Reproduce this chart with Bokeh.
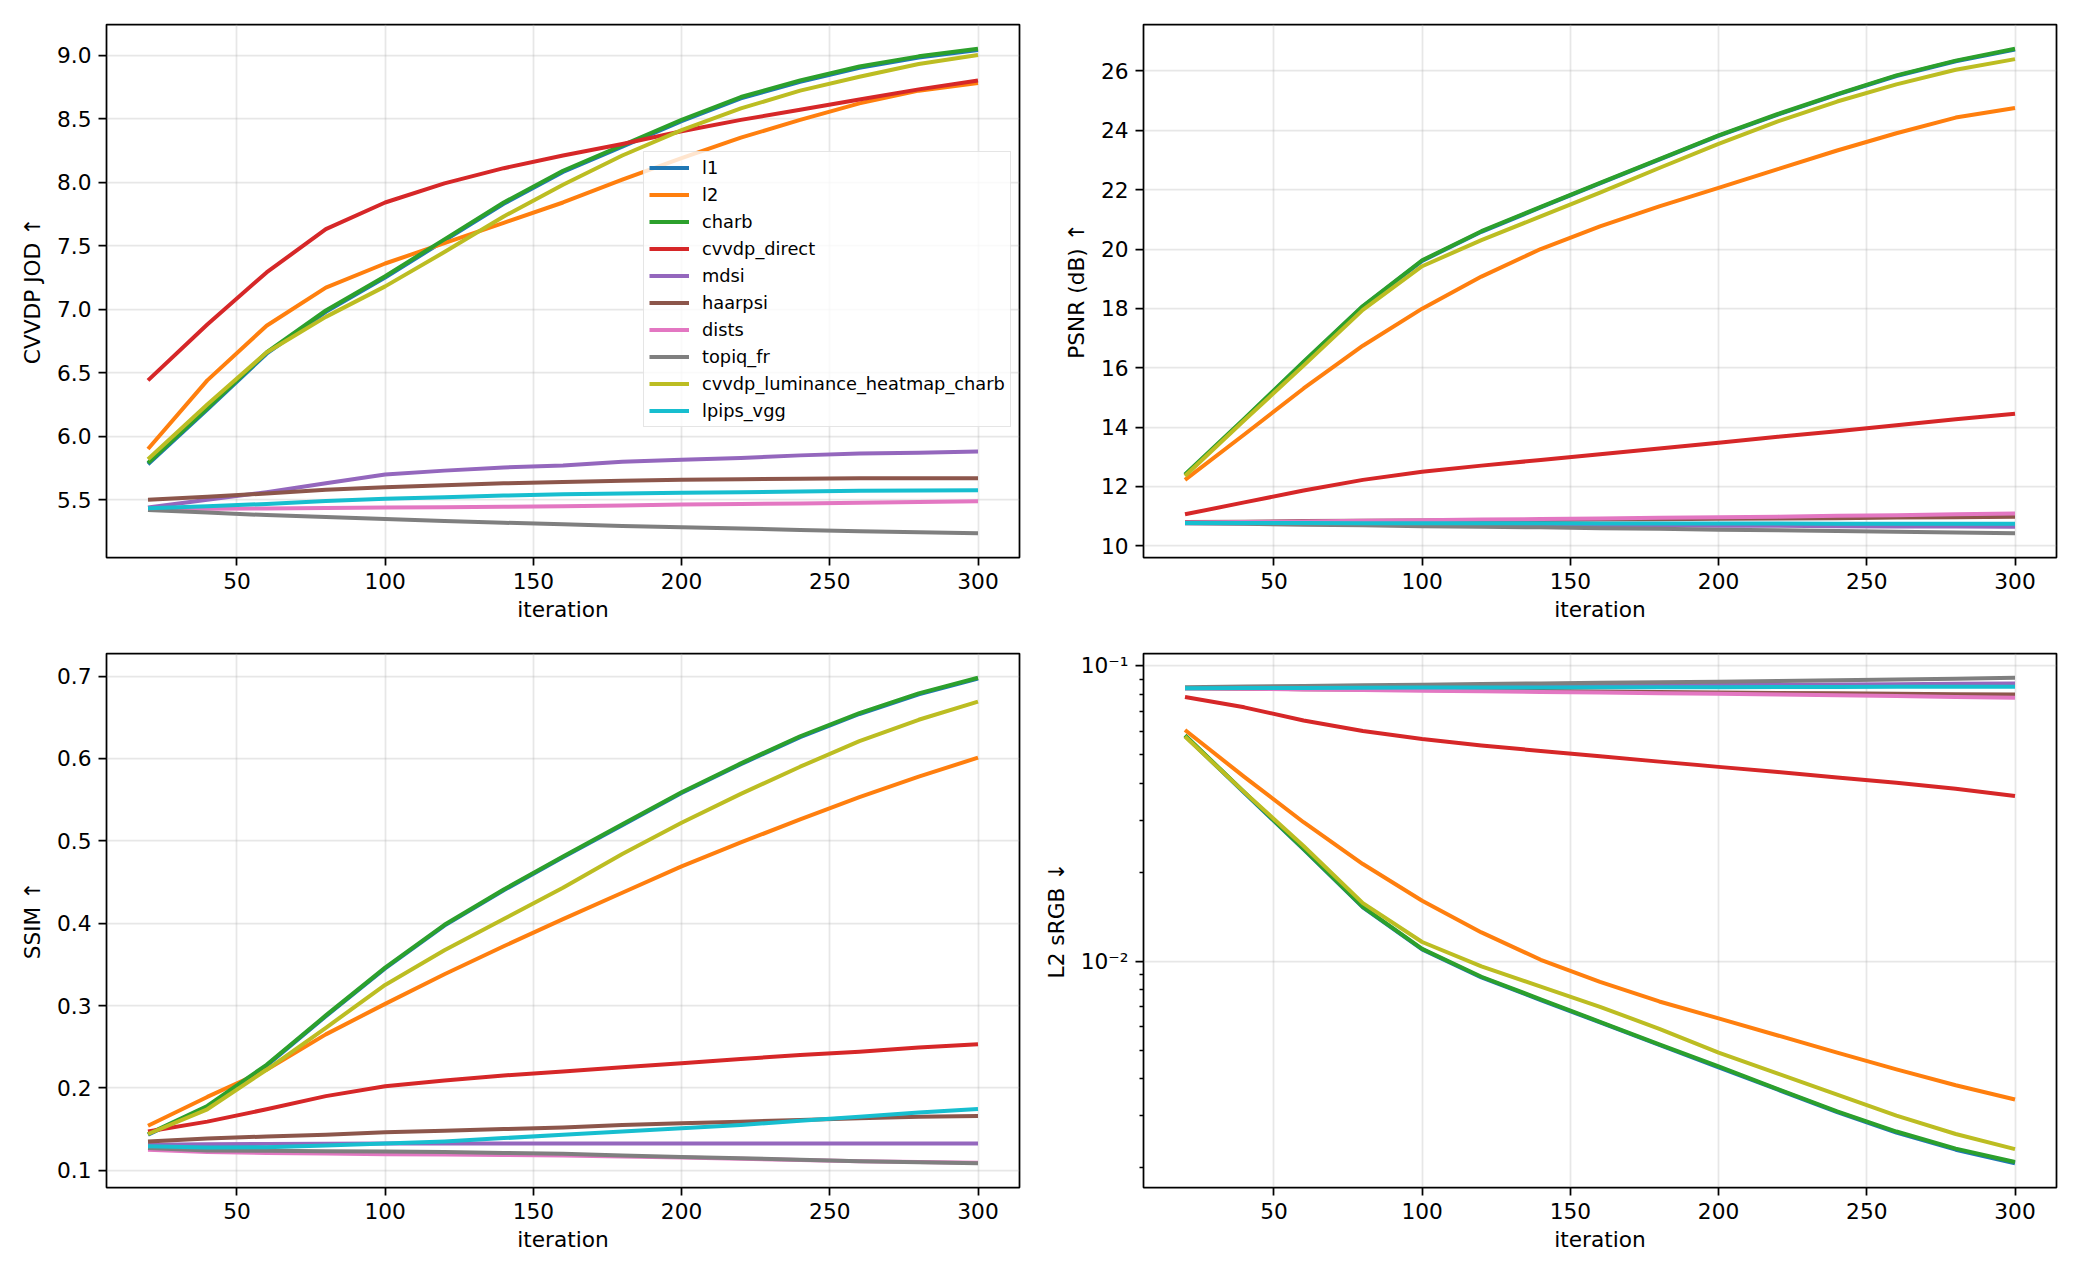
import math
from bokeh.plotting import figure
from bokeh.layouts import column, row
from bokeh.models import Range1d, FixedTicker, PrintfTickFormatter, Legend, LegendItem
from bokeh.embed import file_html
from bokeh.resources import INLINE

iterations = [20, 40, 60, 80, 100, 120, 140, 160, 180, 200, 220, 240, 260, 280, 300]
x_ticks = [50, 100, 150, 200, 250, 300]

names = ["l1", "l2", "charb", "cvvdp_direct", "mdsi", "haarpsi", "dists",
         "topiq_fr", "cvvdp_luminance_heatmap_charb", "lpips_vgg"]
colors = ["#1f77b4", "#ff7f0e", "#2ca02c", "#d62728", "#9467bd", "#8c564b",
          "#e377c2", "#7f7f7f", "#bcbd22", "#17becf"]

# ---- CVVDP JOD ----
jod_l1 = [5.78, 6.21, 6.65, 6.98, 7.25, 7.54, 7.83, 8.08, 8.28, 8.48, 8.66, 8.79, 8.90, 8.98, 9.04]
jod_l2 = [5.90, 6.44, 6.87, 7.17, 7.36, 7.52, 7.68, 7.84, 8.02, 8.19, 8.35, 8.49, 8.62, 8.72, 8.78]
jod_charb = [5.79, 6.22, 6.66, 6.99, 7.26, 7.55, 7.84, 8.09, 8.29, 8.49, 8.67, 8.80, 8.91, 8.99, 9.05]
jod_direct = [6.44, 6.88, 7.29, 7.63, 7.84, 7.99, 8.11, 8.21, 8.30, 8.40, 8.49, 8.57, 8.65, 8.73, 8.80]
jod_mdsi = [5.44, 5.50, 5.56, 5.63, 5.70, 5.73, 5.755, 5.77, 5.80, 5.815, 5.83, 5.85, 5.865, 5.87, 5.88]
jod_haarpsi = [5.50, 5.525, 5.55, 5.58, 5.60, 5.615, 5.63, 5.64, 5.65, 5.658, 5.663, 5.667, 5.67, 5.67, 5.67]
jod_dists = [5.43, 5.43, 5.432, 5.435, 5.44, 5.442, 5.445, 5.45, 5.456, 5.463, 5.467, 5.472, 5.478, 5.483, 5.489]
jod_topiq = [5.42, 5.40, 5.38, 5.365, 5.35, 5.334, 5.32, 5.308, 5.295, 5.284, 5.274, 5.263, 5.253, 5.245, 5.237]
jod_lumheat = [5.82, 6.25, 6.66, 6.94, 7.18, 7.45, 7.73, 7.98, 8.21, 8.41, 8.58, 8.72, 8.83, 8.93, 9.00]
jod_lpips = [5.434, 5.45, 5.468, 5.49, 5.508, 5.52, 5.534, 5.545, 5.55, 5.555, 5.56, 5.566, 5.571, 5.574, 5.576]

# ---- PSNR ----
psnr_l1 = [12.38, 14.26, 16.18, 18.06, 19.60, 20.58, 21.40, 22.21, 23.01, 23.81, 24.53, 25.20, 25.83, 26.33, 26.72]
psnr_l2 = [12.22, 13.75, 15.30, 16.74, 17.99, 19.07, 20.00, 20.76, 21.44, 22.06, 22.69, 23.32, 23.90, 24.43, 24.75]
psnr_charb = [12.40, 14.28, 16.20, 18.08, 19.62, 20.60, 21.42, 22.23, 23.03, 23.83, 24.55, 25.22, 25.85, 26.35, 26.75]
psnr_direct = [11.06, 11.46, 11.86, 12.22, 12.49, 12.70, 12.89, 13.08, 13.28, 13.47, 13.67, 13.86, 14.06, 14.26, 14.45]
psnr_mdsi = [10.76, 10.75, 10.74, 10.73, 10.72, 10.71, 10.70, 10.69, 10.68, 10.67, 10.67, 10.66, 10.65, 10.645, 10.64]
psnr_haarpsi = [10.80, 10.81, 10.83, 10.84, 10.85, 10.86, 10.87, 10.88, 10.89, 10.91, 10.92, 10.93, 10.95, 10.96, 10.98]
psnr_dists = [10.78, 10.80, 10.82, 10.84, 10.86, 10.88, 10.90, 10.92, 10.94, 10.96, 10.98, 11.01, 11.03, 11.06, 11.09]
psnr_topiq = [10.76, 10.74, 10.71, 10.69, 10.66, 10.64, 10.62, 10.59, 10.57, 10.54, 10.52, 10.50, 10.47, 10.45, 10.42]
psnr_lumheat = [12.35, 14.23, 16.07, 17.95, 19.42, 20.30, 21.10, 21.90, 22.73, 23.54, 24.30, 24.97, 25.55, 26.04, 26.40]
psnr_lpips = [10.77, 10.77, 10.77, 10.76, 10.76, 10.76, 10.76, 10.75, 10.75, 10.75, 10.75, 10.74, 10.74, 10.74, 10.74]

# ---- SSIM ----
ssim_l1 = [0.143, 0.177, 0.227, 0.287, 0.345, 0.397, 0.440, 0.480, 0.519, 0.558, 0.593, 0.626, 0.654, 0.678, 0.697]
ssim_l2 = [0.154, 0.189, 0.222, 0.265, 0.302, 0.338, 0.372, 0.405, 0.437, 0.469, 0.498, 0.526, 0.553, 0.578, 0.601]
ssim_charb = [0.144, 0.178, 0.228, 0.288, 0.346, 0.398, 0.441, 0.481, 0.520, 0.559, 0.594, 0.627, 0.655, 0.679, 0.698]
ssim_direct = [0.147, 0.159, 0.174, 0.190, 0.202, 0.209, 0.215, 0.220, 0.225, 0.230, 0.235, 0.240, 0.244, 0.249, 0.253]
ssim_mdsi = [0.131, 0.1315, 0.132, 0.1322, 0.1325, 0.1325, 0.1325, 0.1325, 0.1325, 0.1325, 0.1325, 0.1325, 0.1325, 0.1325, 0.1325]
ssim_haarpsi = [0.135, 0.1385, 0.141, 0.143, 0.146, 0.148, 0.150, 0.152, 0.155, 0.157, 0.159, 0.161, 0.163, 0.165, 0.166]
ssim_dists = [0.125, 0.122, 0.121, 0.1202, 0.1195, 0.119, 0.1185, 0.118, 0.1168, 0.1155, 0.114, 0.1125, 0.111, 0.110, 0.109]
ssim_topiq = [0.127, 0.124, 0.1235, 0.123, 0.1228, 0.1222, 0.121, 0.120, 0.118, 0.1162, 0.1145, 0.1128, 0.111, 0.1098, 0.1085]
ssim_lumheat = [0.144, 0.174, 0.222, 0.273, 0.325, 0.367, 0.405, 0.443, 0.484, 0.522, 0.557, 0.590, 0.621, 0.647, 0.669]
ssim_lpips = [0.129, 0.1276, 0.128, 0.130, 0.1325, 0.135, 0.139, 0.143, 0.147, 0.151, 0.155, 0.160, 0.165, 0.170, 0.1744]

# ---- L2 sRGB ----
l2s_l1 = [0.0578, 0.0371, 0.0239, 0.0152, 0.01095, 0.0088, 0.00738, 0.0062, 0.0052, 0.00437, 0.00367, 0.00308, 0.00263, 0.0023, 0.00207]
l2s_l2 = [0.0605, 0.0420, 0.0295, 0.0213, 0.0160, 0.0125, 0.0101, 0.0085, 0.0073, 0.0064, 0.0056, 0.0049, 0.0043, 0.0038, 0.0034]
l2s_charb = [0.0581, 0.0373, 0.0240, 0.01525, 0.0110, 0.00885, 0.00742, 0.00623, 0.00523, 0.0044, 0.00369, 0.0031, 0.00265, 0.00232, 0.00209]
l2s_direct = [0.0783, 0.0722, 0.0652, 0.0600, 0.0564, 0.0536, 0.0514, 0.0493, 0.0473, 0.0454, 0.0436, 0.0418, 0.0401, 0.0383, 0.0362]
l2s_mdsi = [0.0838, 0.0841, 0.0843, 0.0846, 0.0848, 0.0851, 0.0853, 0.0855, 0.0857, 0.0859, 0.0861, 0.0863, 0.0865, 0.0868, 0.0870]
l2s_haarpsi = [0.0838, 0.0835, 0.0832, 0.0829, 0.0826, 0.0823, 0.0820, 0.0817, 0.0814, 0.0811, 0.0808, 0.0805, 0.0802, 0.0800, 0.0798]
l2s_dists = [0.0838, 0.0834, 0.0830, 0.0826, 0.0822, 0.0818, 0.0814, 0.0810, 0.0806, 0.0802, 0.0798, 0.0793, 0.0788, 0.0783, 0.0778]
l2s_topiq = [0.0845, 0.0849, 0.0853, 0.0857, 0.0861, 0.0866, 0.0870, 0.0874, 0.0878, 0.0882, 0.0887, 0.0891, 0.0896, 0.0902, 0.0909]
l2s_lumheat = [0.0575, 0.0373, 0.0245, 0.0157, 0.0116, 0.0096, 0.0082, 0.0070, 0.0059, 0.0049, 0.00416, 0.00353, 0.00300, 0.00260, 0.00231]
l2s_lpips = [0.0838, 0.0839, 0.0840, 0.0841, 0.0842, 0.0842, 0.0843, 0.0844, 0.0845, 0.0845, 0.0846, 0.0846, 0.0847, 0.0847, 0.0848]

jod = [jod_l1, jod_l2, jod_charb, jod_direct, jod_mdsi, jod_haarpsi, jod_dists, jod_topiq, jod_lumheat, jod_lpips]
psnr = [psnr_l1, psnr_l2, psnr_charb, psnr_direct, psnr_mdsi, psnr_haarpsi, psnr_dists, psnr_topiq, psnr_lumheat, psnr_lpips]
ssim = [ssim_l1, ssim_l2, ssim_charb, ssim_direct, ssim_mdsi, ssim_haarpsi, ssim_dists, ssim_topiq, ssim_lumheat, ssim_lpips]
l2s = [l2s_l1, l2s_l2, l2s_charb, l2s_direct, l2s_mdsi, l2s_haarpsi, l2s_dists, l2s_topiq, l2s_lumheat, l2s_lpips]

FONT = "DejaVu Sans"
FS = "21.7px"
LW = 4


def lin_range(series):
    lo = min(min(s) for s in series)
    hi = max(max(s) for s in series)
    pad = (hi - lo) * 0.05
    return Range1d(lo - pad, hi + pad)


def log_range(series):
    lo = math.log10(min(min(s) for s in series))
    hi = math.log10(max(max(s) for s in series))
    pad = (hi - lo) * 0.05
    return Range1d(10 ** (lo - pad), 10 ** (hi + pad))


def make_fig(series, ylabel, bl, br, bt, bb, fh, y_type="linear"):
    yr = log_range(series) if y_type == "log" else lin_range(series)
    p = figure(frame_width=913, frame_height=fh,
               min_border_left=bl, min_border_right=br,
               min_border_top=bt, min_border_bottom=bb,
               x_range=Range1d(6, 314), y_range=yr, y_axis_type=y_type,
               output_backend="svg", toolbar_location=None)
    p.background_fill_color = "white"
    p.border_fill_color = "white"
    p.outline_line_color = "black"
    p.outline_line_width = 1.75
    p.outline_line_alpha = 1.0
    p.xaxis.ticker = FixedTicker(ticks=x_ticks)
    p.xgrid.ticker = FixedTicker(ticks=x_ticks)
    p.xaxis.axis_label = "iteration"
    p.yaxis.axis_label = ylabel
    for ax in p.axis:
        ax.axis_line_color = None
        ax.major_tick_line_color = "black"
        ax.major_tick_line_width = 1.75
        ax.major_tick_out = 8
        ax.major_tick_in = 0
        ax.minor_tick_out = 0
        ax.minor_tick_in = 0
        ax.major_label_standoff = 7
        ax.major_label_text_font = FONT
        ax.major_label_text_font_size = FS
        ax.major_label_text_color = "black"
        ax.axis_label_text_font = FONT
        ax.axis_label_text_font_size = FS
        ax.axis_label_text_font_style = "normal"
        ax.axis_label_text_color = "black"
        ax.axis_label_standoff = 9
    p.xaxis.axis_label_standoff = 5
    for g in p.grid:
        g.grid_line_color = "#b0b0b0"
        g.grid_line_alpha = 0.3
        g.grid_line_width = 1.75
    renderers = []
    for name, col, ys in zip(names, colors, series):
        r = p.line(iterations, ys, line_color=col, line_width=LW,
                   line_join="round", line_cap="butt")
        renderers.append(r)
    return p, renderers


p1, r1 = make_fig(jod, "CVVDP JOD ↑", 106, 10, 24, 80, 533)
p1.yaxis.ticker = FixedTicker(ticks=[5.5, 6.0, 6.5, 7.0, 7.5, 8.0, 8.5, 9.0])
p1.ygrid.ticker = FixedTicker(ticks=[5.5, 6.0, 6.5, 7.0, 7.5, 8.0, 8.5, 9.0])
p1.yaxis.formatter = PrintfTickFormatter(format="%.1f")

legend = Legend(items=[LegendItem(label=n, renderers=[r]) for n, r in zip(names, r1)],
                location=(537, 130), margin=0, padding=5, spacing=6,
                glyph_width=40, glyph_height=21, label_height=21, label_standoff=13,
                label_text_font=FONT, label_text_font_size="17.8px",
                label_text_color="black",
                border_line_color="#cccccc", border_line_width=1.75,
                background_fill_color="white", background_fill_alpha=0.8)
p1.add_layout(legend)

p2, _ = make_fig(psnr, "PSNR (dB) ↑", 114, 24, 24, 80, 533)
p2.yaxis.ticker = FixedTicker(ticks=[10, 12, 14, 16, 18, 20, 22, 24, 26])
p2.ygrid.ticker = FixedTicker(ticks=[10, 12, 14, 16, 18, 20, 22, 24, 26])
p2.yaxis.formatter = PrintfTickFormatter(format="%d")

p3, _ = make_fig(ssim, "SSIM ↑", 106, 10, 16, 93, 534)
p3.yaxis.ticker = FixedTicker(ticks=[0.1, 0.2, 0.3, 0.4, 0.5, 0.6, 0.7])
p3.ygrid.ticker = FixedTicker(ticks=[0.1, 0.2, 0.3, 0.4, 0.5, 0.6, 0.7])
p3.yaxis.formatter = PrintfTickFormatter(format="%.1f")

p4, _ = make_fig(l2s, "L2 sRGB ↓", 114, 24, 16, 93, 534, y_type="log")
minor = [0.002, 0.003, 0.004, 0.005, 0.006, 0.007, 0.008, 0.009,
         0.02, 0.03, 0.04, 0.05, 0.06, 0.07, 0.08, 0.09]
p4.yaxis.ticker = FixedTicker(ticks=[0.01, 0.1], minor_ticks=minor)
p4.ygrid.ticker = FixedTicker(ticks=[0.01, 0.1])
p4.yaxis.major_label_overrides = {0.01: "10⁻²", 0.1: "10⁻¹"}
p4.yaxis.minor_tick_out = 4
p4.yaxis.minor_tick_line_width = 1.3
p4.yaxis.minor_tick_line_color = "black"

layout = column(row(p1, p2), row(p3, p4))

open("out.html", "w").write(file_html(layout, INLINE))
